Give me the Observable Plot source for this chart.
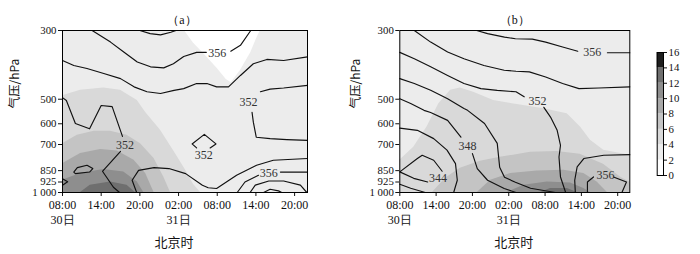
<!DOCTYPE html>
<html><head><meta charset="utf-8">
<script src="https://cdn.jsdelivr.net/npm/d3@7"></script>
<script src="https://cdn.jsdelivr.net/npm/@observablehq/plot@0.6"></script>
<style>
body{margin:0;background:#fff;}
#wrap{position:relative;width:700px;height:254px;overflow:hidden;}
#wrap svg{position:absolute;top:0;overflow:visible;}
#wrap svg g[aria-label="y-axis tick label"] text{font-size:10.8px;}
#wrap svg g[aria-label="x-axis tick label"] text{font-size:12px;}
</style></head><body><div id="wrap"></div>
<script>
// ---- axes / ticks ----
const hours = [0, 6, 12, 18, 24, 30, 36];            // hours after 30日 08:00
const hourText = ["08:00","14:00","20:00","02:00","08:00","14:00","20:00"];
const dayTicks = [0, 18];
const dayText = ["30日", "31日"];
const pressureTicks = [300, 500, 600, 700, 850, 925, 1000];
const pressureText = ["300","500","600","700","850","925","1 000"];
const shadeLevels = [0, 2, 4, 6, 8, 10, 12, 14];
const shadeGrays = ["#ffffff","#ececec","#d9d9d9","#c4c4c4","#a9a9a9","#8e8e8e","#6f6f6f","#1e1e1e"];
const colorbarTicks = [0, 2, 4, 6, 8, 10, 12, 14, 16];

// ---- panel (a): theta-e contours [hour, hPa] ----
const a_l1 = [[12,300],[13.6,307],[15.2,310],[16.8,304],[17.6,300]];
const a_l2a = [[4.6,300],[7.45,327],[9.5,352],[11.6,379],[13.65,393],[15.7,396],[17.2,384],[18.8,364],[20.8,353],[22.3,353]];
const a_l2b = [[26.1,350],[27.6,335],[29.2,300]];
const a_l3 = [[0,375],[1.75,389],[3.8,398],[6.4,413],[9,429],[11.1,456],[13.1,473],[15.2,479],[17.3,468],[18.8,462],[20.8,445],[22.4,445],[23.9,456],[25.75,456],[27.6,419],[29.6,384],[31.7,372],[34.3,375],[38,365]];
const a_l4a = [[30.7,473],[32.2,464],[34.3,460],[38,451]];
const a_l4b = [[29.4,551],[29.6,593],[30.05,663],[32.2,670],[34.8,675],[38,679]];
const a_l5 = [[22.9,718],[23.8,697],[22,649],[20.1,697],[20.8,718]];
const a_l6a = [[0,494],[0.6,505],[2,599],[4.2,623],[6,524],[7.7,528],[9.3,659]];
const a_l6b = [[9,737],[6.2,854],[7.9,962],[8.85,1000]];
const a_l7 = [[1.75,859],[2.3,831],[3.8,817],[4.7,837],[4.2,859],[2,869],[1.75,859]];
const a_l8 = [[0,903],[0.8,923],[0,947]];
const a_l9 = [[11.5,1000],[10.8,913],[11.8,848],[14.2,831],[16.5,837],[19.1,869],[21.7,947],[22.6,965],[23.9,971],[27,880],[30.1,817],[32.7,787],[38,777]];
const a_l10a = [[27.1,1000],[28.3,925],[30.4,880]];
const a_l10b = [[33.8,859],[38,859]];
const a_l11 = [[29.1,1000],[29.9,947],[32,918],[34.3,918],[36.9,947],[37.9,1000]];
const a_l12 = [[31.2,1000],[32.2,976],[33.5,988],[34,1000]];
const a_labelText = ["356","352","352","352","356"];
const a_labelHour = [24.0, 28.85, 21.9, 9.7, 32.0];
const a_labelP = [355, 510, 758, 702, 864];
// panel (a) shading boundaries [hour, hPa]
const a_white = [[18.9,300],[20.3,329],[22.2,362],[24,398],[25.4,432],[26.2,442],[27.6,404],[29.2,354],[30.1,319],[30.7,300]];
const a_s4 = [[0,487],[2.8,468],[6.4,460],[9,468],[11.6,505],[12.9,552],[15.2,630],[17.5,748],[19.1,847],[20.3,940],[21.4,1000]];
const a_s6 = [[0,696],[2.3,654],[4.9,634],[7.45,634],[10,654],[12.1,696],[14.2,777],[15.7,891],[16.75,1000]];
const a_s8 = [[0,807],[2.8,749],[5.9,727],[8.5,735],[11.1,787],[12.9,869],[14.2,1000]];
const a_s10 = [[0,913],[2.8,869],[6.4,843],[9.5,859],[11.6,925],[12.6,1000]];
const a_s12 = [[2.8,1000],[4.3,947],[7.45,925],[10,947],[11.3,1000]];

// ---- panel (b) ----
const b_l1a = [[12.7,300],[14.5,307],[17.3,315],[19.1,319],[21.9,320],[24.1,327],[26.9,339],[29.4,350]];
const b_l1b = [[34.3,354],[38,354]];
const b_l2 = [[2.4,300],[5.1,327],[7.9,352],[10.6,370],[13.9,389],[17.25,403],[19.2,406],[21.4,408],[24.1,424],[26.9,445],[29.6,462],[32.9,460],[38,456]];
const b_l3a = [[0,353],[2.4,370],[5.1,393],[7.9,419],[10.6,445],[13.4,462],[16.1,468],[19.2,473],[20.55,491]];
const b_l3b = [[23.8,531],[24.9,571],[26,630],[26.55,704],[26.3,768],[26.55,891],[27.4,1000]];
const b_l4 = [[0,429],[2.4,445],[5.1,468],[7.9,498],[10.6,536],[11.2,543],[14,599],[16.1,694],[16.5,829],[17.3,893],[19.1,927],[21.6,969],[25.7,1000]];
const b_l5a = [[0,498],[1.8,516],[4,543],[5.1,552],[7.9,585],[10.1,663]];
const b_l5b = [[12,749],[12.8,837],[14.5,913],[17.25,971],[19.2,1000]];
const b_l6 = [[0,620],[2.9,630],[5.6,670],[7.8,730],[9.2,807],[9.5,913],[8.9,1000]];
const b_l7 = [[7,854],[5.6,787],[3.7,758],[2.9,777],[0,858],[2.3,900],[4.6,925]];
const b_l8 = [[0,940],[1.8,969],[4.2,1000]];
const b_l9 = [[38,755],[33.7,758],[30.4,777],[29.3,827],[28.9,913],[29,1000]];
const b_l10a = [[31,1000],[31,925],[32,891]];
const b_l10b = [[35.3,891],[37.45,925],[36.7,1000]];
const b_labelText = ["356","352","348","344","356"];
const b_labelHour = [31.8, 22.75, 11.2, 6.3, 34.0];
const b_labelP = [353, 509, 710, 901, 880];
const b_s4 = [[0,787],[2.3,714],[4.5,615],[6.45,517],[8.4,468],[10,460],[12.2,475],[15.5,505],[19.4,520],[23.8,537],[27.65,557],[29.85,615],[31.5,678],[33.7,730],[38,758]];
const b_s6 = [[5.4,1000],[7.55,900],[10,835],[13.3,793],[16.6,770],[21.6,742],[26,737],[29.8,752],[33.65,811],[36.5,893],[38,927]];
const b_s8 = [[12.8,1000],[15,913],[18.3,869],[22.7,852],[27.1,847],[30.4,869],[32.6,925],[34.3,1000]];
const b_s10 = [[17.7,1000],[20.5,947],[24.35,925],[28.2,932],[30.4,971],[31.5,1000]];
const b_s12 = [[23.25,1000],[24.9,971],[27.7,971],[29.3,1000]];

// ---- helpers ----
const serif = "'Liberation Serif','Times New Roman',serif";
const cjk = "'Noto Sans CJK SC',sans-serif";
const colorScale = {type: "ordinal", domain: shadeLevels, range: shadeGrays};
const toRows = (arr, id) => arr.map(([t, p]) => ({t, p, id}));
const lineRows = (list) => list.flatMap((arr, i) => toRows(arr, i));
const labelRows = (txt, hrs, ps) => txt.map((s, i) => ({text: s, t: hrs[i], p: ps[i]}));
const shadeRows = (arr, level) => arr.map(([t, p]) => ({t, p, level}));

function panel(o) {
  return Plot.plot({
    width: o.width, height: 254,
    marginLeft: o.ml, marginRight: o.mr, marginTop: 30, marginBottom: 62,
    style: {fontFamily: serif, fontSize: "12px", background: "none", color: "#111"},
    x: {domain: [0, 38], ticks: hours, tickFormat: d => hourText[hours.indexOf(d)], tickSize: 4, tickPadding: 4, label: null},
    y: {type: "log", domain: [300, 1000], reverse: true, ticks: pressureTicks, tickFormat: d => pressureText[pressureTicks.indexOf(d)], tickSize: 4, tickPadding: 2, label: null},
    color: colorScale,
    marks: [
      Plot.frame({fill: shadeGrays[1]}),
      ...o.shades.map(([arr, level, base]) => Plot.areaY(shadeRows(arr, level), {x: "t", y1: base, y2: "p", fill: "level"})),
      Plot.line(lineRows(o.lines), {x: "t", y: "p", z: "id", stroke: "#111", strokeWidth: 1.15}),
      Plot.text(o.labels, {x: "t", y: "p", text: "text", fill: "#333", fontSize: 12}),
      Plot.frame({stroke: "#000"}),
      Plot.text(dayTicks, {x: d => d, text: (d, i) => dayText[i], frameAnchor: "bottom", dy: 31, fontSize: 12}),
      Plot.text([o.title], {text: d => d, frameAnchor: "top", dy: -15, dx: o.tdx, fontSize: 12}),
      Plot.text(["北京时"], {text: d => d, frameAnchor: "bottom", dy: 54, dx: o.xdx, fontFamily: cjk, fontSize: 13}),
      Plot.text(["气压/hPa"], {text: d => d, frameAnchor: "left", dx: o.ydx, dy: -3, rotate: -90, fontFamily: cjk, fontSize: 12, fill: "#111"})
    ]
  });
}

const wrap = document.getElementById("wrap");
const pa = panel({
  width: 350, ml: 62, mr: 43, title: "（a）", tdx: -3, xdx: -11, ydx: -47,
  lines: [a_l1, a_l2a, a_l2b, a_l3, a_l4a, a_l4b, a_l5, a_l6a, a_l6b, a_l7, a_l8, a_l9, a_l10a, a_l10b, a_l11, a_l12],
  labels: labelRows(a_labelText, a_labelHour, a_labelP),
  shades: [[a_white, 0, 300], [a_s4, 4, 1000], [a_s6, 6, 1000], [a_s8, 8, 1000], [a_s10, 10, 1000], [a_s12, 12, 1000]]
});
pa.style.left = "0px";
wrap.appendChild(pa);

const pb = panel({
  width: 290, ml: 49.3, mr: 10.7, title: "（b）", tdx: 0, xdx: -1, ydx: -44,
  lines: [b_l1a, b_l1b, b_l2, b_l3a, b_l3b, b_l4, b_l5a, b_l5b, b_l6, b_l7, b_l8, b_l9, b_l10a, b_l10b],
  labels: labelRows(b_labelText, b_labelHour, b_labelP),
  shades: [[b_s4, 4, 1000], [b_s6, 6, 1000], [b_s8, 8, 1000], [b_s10, 10, 1000], [b_s12, 12, 1000]]
});
pb.style.left = "350px";
wrap.appendChild(pb);

const cbRows = shadeLevels.map((lo, i) => ({lo, hi: colorbarTicks[i + 1]}));
const cb = Plot.plot({
  width: 60, height: 254, marginLeft: 16.7, marginRight: 37, marginTop: 52, marginBottom: 79,
  style: {fontFamily: serif, fontSize: "12.5px", background: "none", color: "#111"},
  x: {domain: [0, 1], axis: null},
  y: {domain: [0, 16], ticks: colorbarTicks, axis: "right", tickSize: 3, tickPadding: 2, label: null},
  color: colorScale,
  marks: [
    Plot.rect(cbRows, {x1: 0, x2: 1, y1: "lo", y2: "hi", fill: "lo"}),
    Plot.frame({stroke: "#000"})
  ]
});
cb.style.left = "640px";
wrap.appendChild(cb);
</script></body></html>
